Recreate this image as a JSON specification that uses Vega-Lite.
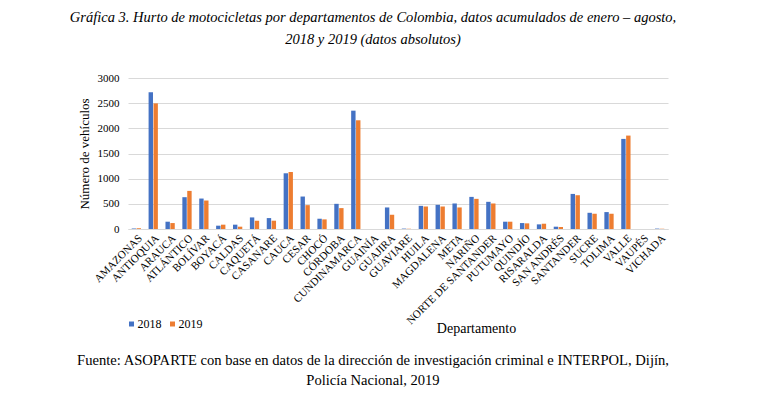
{
  "$schema": "https://vega.github.io/schema/vega-lite/v6.json",
  "autosize": {"type": "none"},
  "padding": {"left": 128, "top": 78, "right": 631, "bottom": 320},
  "bounds": "flush",
  "title": {
    "text": ["Gráfica 3. Hurto de motocicletas por departamentos de Colombia, datos acumulados de enero – agosto,", "2018 y 2019 (datos absolutos)"],
    "font": "Liberation Serif", "fontStyle": "italic", "fontWeight": "normal", "fontSize": 14.5, "lineHeight": 22,
    "anchor": "middle", "frame": "bounds", "offset": 25, "color": "#000000"
  },
  "vconcat": [
    {
      "title": {
        "text": ["Fuente: ASOPARTE con base en datos de la dirección de investigación criminal e INTERPOL, Dijín,", "Policía Nacional, 2019"],
        "orient": "bottom", "font": "Liberation Serif", "fontWeight": "normal", "fontSize": 14.6, "lineHeight": 20,
        "anchor": "middle", "frame": "bounds", "offset": 18, "color": "#000000"
      },
      "width": 540,
      "height": 151,
      "data": {"values": [
        {"dep": "AMAZONAS", "year": "2018", "value": 10}, {"dep": "AMAZONAS", "year": "2019", "value": 15},
        {"dep": "ANTIOQUIA", "year": "2018", "value": 2715}, {"dep": "ANTIOQUIA", "year": "2019", "value": 2496},
        {"dep": "ARAUCA", "year": "2018", "value": 145}, {"dep": "ARAUCA", "year": "2019", "value": 118},
        {"dep": "ATLÁNTICO", "year": "2018", "value": 632}, {"dep": "ATLÁNTICO", "year": "2019", "value": 757},
        {"dep": "BOLÍVAR", "year": "2018", "value": 605}, {"dep": "BOLÍVAR", "year": "2019", "value": 566},
        {"dep": "BOYACÁ", "year": "2018", "value": 66}, {"dep": "BOYACÁ", "year": "2019", "value": 86},
        {"dep": "CALDAS", "year": "2018", "value": 86}, {"dep": "CALDAS", "year": "2019", "value": 46},
        {"dep": "CAQUETÁ", "year": "2018", "value": 230}, {"dep": "CAQUETÁ", "year": "2019", "value": 165},
        {"dep": "CASANARE", "year": "2018", "value": 217}, {"dep": "CASANARE", "year": "2019", "value": 165},
        {"dep": "CAUCA", "year": "2018", "value": 1107}, {"dep": "CAUCA", "year": "2019", "value": 1132},
        {"dep": "CESAR", "year": "2018", "value": 645}, {"dep": "CESAR", "year": "2019", "value": 474},
        {"dep": "CHOCÓ", "year": "2018", "value": 204}, {"dep": "CHOCÓ", "year": "2019", "value": 191},
        {"dep": "CÓRDOBA", "year": "2018", "value": 500}, {"dep": "CÓRDOBA", "year": "2019", "value": 415},
        {"dep": "CUNDINAMARCA", "year": "2018", "value": 2351}, {"dep": "CUNDINAMARCA", "year": "2019", "value": 2160},
        {"dep": "GUAINÍA", "year": "2018", "value": 0}, {"dep": "GUAINÍA", "year": "2019", "value": 0},
        {"dep": "GUAJIRA", "year": "2018", "value": 428}, {"dep": "GUAJIRA", "year": "2019", "value": 283},
        {"dep": "GUAVIARE", "year": "2018", "value": 8}, {"dep": "GUAVIARE", "year": "2019", "value": 5},
        {"dep": "HUILA", "year": "2018", "value": 460}, {"dep": "HUILA", "year": "2019", "value": 447},
        {"dep": "MAGDALENA", "year": "2018", "value": 480}, {"dep": "MAGDALENA", "year": "2019", "value": 447},
        {"dep": "META", "year": "2018", "value": 507}, {"dep": "META", "year": "2019", "value": 428},
        {"dep": "NARIÑO", "year": "2018", "value": 638}, {"dep": "NARIÑO", "year": "2019", "value": 599},
        {"dep": "NORTE DE SANTANDER", "year": "2018", "value": 540}, {"dep": "NORTE DE SANTANDER", "year": "2019", "value": 507},
        {"dep": "PUTUMAYO", "year": "2018", "value": 145}, {"dep": "PUTUMAYO", "year": "2019", "value": 145},
        {"dep": "QUINDÍO", "year": "2018", "value": 118}, {"dep": "QUINDÍO", "year": "2019", "value": 112},
        {"dep": "RISARALDA", "year": "2018", "value": 92}, {"dep": "RISARALDA", "year": "2019", "value": 105},
        {"dep": "SAN ANDRÉS", "year": "2018", "value": 46}, {"dep": "SAN ANDRÉS", "year": "2019", "value": 40},
        {"dep": "SANTANDER", "year": "2018", "value": 697}, {"dep": "SANTANDER", "year": "2019", "value": 671},
        {"dep": "SUCRE", "year": "2018", "value": 322}, {"dep": "SUCRE", "year": "2019", "value": 303},
        {"dep": "TOLIMA", "year": "2018", "value": 336}, {"dep": "TOLIMA", "year": "2019", "value": 303},
        {"dep": "VALLE", "year": "2018", "value": 1790}, {"dep": "VALLE", "year": "2019", "value": 1856},
        {"dep": "VAUPÉS", "year": "2018", "value": 0}, {"dep": "VAUPÉS", "year": "2019", "value": 0},
        {"dep": "VICHADA", "year": "2018", "value": 8}, {"dep": "VICHADA", "year": "2019", "value": 5}
      ]},
      "mark": {"type": "bar"},
      "encoding": {
        "x": {
          "field": "dep", "type": "nominal", "sort": null,
          "scale": {"paddingInner": 0.45, "paddingOuter": 0.22},
          "axis": {
            "title": "Departamento", "labelAngle": -45, "labelFont": "Liberation Serif", "labelFontSize": 11, "labelColor": "#000000",
            "ticks": false, "domainColor": "#d9d9d9", "labelPadding": 3, "labelOverlap": false, "labelLimit": 0,
            "titleX": 348, "titleY": 92, "titleBaseline": "top", "titleFont": "Liberation Serif", "titleFontSize": 14, "titleFontWeight": "normal", "titleColor": "#000000"
          }
        },
        "xOffset": {"field": "year", "type": "nominal", "scale": {"paddingInner": 0.1}},
        "y": {
          "field": "value", "type": "quantitative",
          "scale": {"domain": [0, 3000]},
          "axis": {
            "values": [0, 500, 1000, 1500, 2000, 2500, 3000], "format": "d", "title": "Número de vehículos",
            "titleFont": "Liberation Serif", "titleFontSize": 13, "titleFontWeight": "normal", "titleColor": "#000000", "titlePadding": 6,
            "labelFont": "Liberation Serif", "labelFontSize": 11, "labelColor": "#000000", "labelPadding": 9,
            "domain": false, "ticks": false, "gridColor": "#d9d9d9"
          }
        },
        "color": {
          "field": "year", "type": "nominal",
          "scale": {"range": ["#4472C4", "#ED7D31"]},
          "legend": {
            "orient": "none", "legendX": -2.5, "legendY": 240, "direction": "horizontal", "title": null,
            "symbolType": "square", "symbolSize": 25, "symbolStrokeWidth": 0,
            "labelFont": "Liberation Serif", "labelFontSize": 12, "labelColor": "#000000",
            "labelOffset": 0, "columnPadding": 5, "padding": 0
          }
        }
      }
    }
  ],
  "config": {
    "font": "Liberation Serif",
    "view": {"stroke": null}
  }
}
